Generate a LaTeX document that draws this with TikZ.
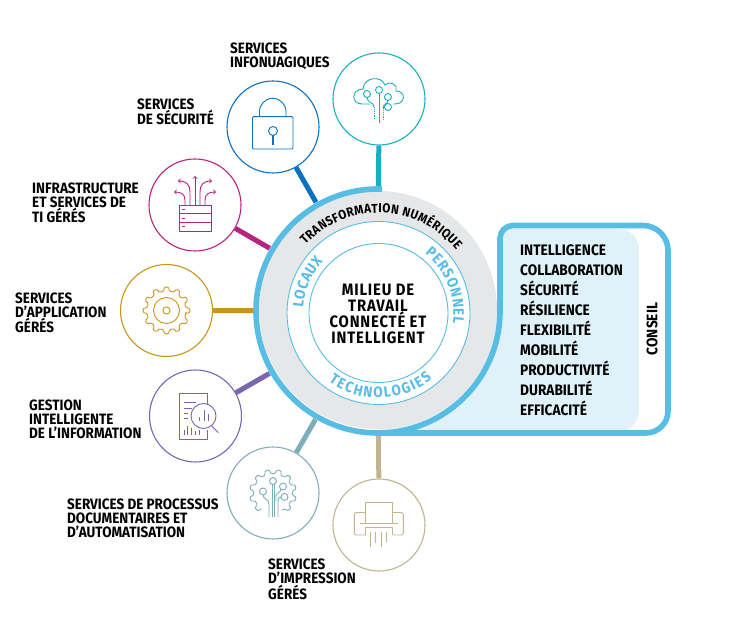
\documentclass[tikz,border=0pt]{standalone}
\usepackage{fontspec}
\setmainfont[FakeStretch=0.9]{Fira Sans}
\usetikzlibrary{decorations.text}
\definecolor{ringblue}{HTML}{58BDE3}
\definecolor{boxfill}{HTML}{E0F2F9}
\definecolor{ringgrey}{HTML}{E6E7E8}
\definecolor{cloudcol}{HTML}{1AAEBF}
\definecolor{lockcol}{HTML}{0C71BE}
\definecolor{servercol}{HTML}{B5247F}
\definecolor{gearcol}{HTML}{C8961E}
\definecolor{doccol}{HTML}{7A66B0}
\definecolor{proccol}{HTML}{7FAEBB}
\definecolor{printcol}{HTML}{BDB68F}
\begin{document}
\begin{tikzpicture}[x=1pt, y=1pt]
	\tikzset{hub/.style={circle, inner sep=0, minimum size=250pt}}
	\tikzset{service/.style={circle, draw=#1, fill=white, line width=1.1pt, inner sep=0, minimum size=92pt}}
	\tikzset{link/.style={draw=#1, line width=5pt}}
	\tikzset{icon/.style={draw=#1, line width=0.9pt, line join=round}}
	\tikzset{caption/.style={anchor=west, align=left, inner sep=0, font=\fontsize{15}{14}\selectfont\bfseries}}
	\tikzset{listing/.style={anchor=west, align=left, inner sep=0, font=\fontsize{15.2}{20}\selectfont\bfseries}}
	\tikzset{curved/.style={decorate, decoration={text along path, text align={fit to path}, text={#1}}}}
	\useasboundingbox (0,0) rectangle (730,623);

	\fill[boxfill] (378,192) -- (500,312) -- (500,394) -- (619,394) arc (90:0:20) -- (639,212) arc (0:-90:20) -- cycle;
	\fill[ringgrey] (378,313) circle (119);

	\node[hub] (hub) at (378,312) {};
	\node[service=cloudcol] (cloud) at (379,524) {};
	\node[service=lockcol] (lock) at (273,496) {};
	\node[service=servercol] (server) at (195,418) {};
	\node[service=gearcol] (gear) at (166.5,312.5) {};
	\node[service=doccol] (doc) at (195.5,207) {};
	\node[service=proccol] (proc) at (273,130) {};
	\node[service=printcol] (print) at (379,98) {};

	\draw[link=cloudcol] (cloud) -- (hub);
	\draw[link=lockcol] (lock) -- (hub);
	\draw[link=servercol] (server) -- (hub);
	\draw[link=gearcol] (gear) -- (hub);
	\draw[link=doccol] (doc) -- (hub);
	\draw[link=proccol] (proc) -- (hub);
	\draw[link=printcol] (print) -- (hub);

	\draw[draw=ringblue, line width=5.6pt] (382,434) -- (378,434) arc (90:360:122) -- (500,384.5) arc (180:90:13) -- (643,397.5) arc (90:0:25) -- (668,212) arc (0:-90:22) -- (378,190);

	\draw[ringblue, fill=white, line width=0.9pt] (378.5,310) circle (91.5);
	\draw[ringblue, line width=0.9pt] (378.5,310) circle (69.5);

	\path[curved={|\fontsize{12.9}{13}\selectfont\bfseries\color{black}|TRANSFORMATION NUMÉRIQUE}] (378.5,310) ++(137:100) arc (137:39:100);
	\path[curved={|\fontsize{15}{15}\selectfont\bfseries\color{ringblue}|LOCAUX}] (378.5,310) ++(176:75.5) arc (176:137:75.5);
	\path[curved={|\fontsize{15}{15}\selectfont\bfseries\color{ringblue}|PERSONNEL}] (378.5,310) ++(52:75) arc (52:-8:75);
	\path[curved={|\fontsize{15}{15}\selectfont\bfseries\color{ringblue}|TECHNOLOGIES}] (378.5,310) ++(234:85) arc (234:309:85);

	\node[align=center, inner sep=0, font=\fontsize{16.5}{16}\selectfont\addfontfeature{LetterSpace=5}\bfseries] (milieu) at (378,309.5) {MILIEU DE\\TRAVAIL\\CONNECTÉ ET\\INTELLIGENT};
	\node[listing] (values) at (520,293) {INTELLIGENCE\\COLLABORATION\\SÉCURITÉ\\RÉSILIENCE\\FLEXIBILITÉ\\MOBILITÉ\\PRODUCTIVITÉ\\DURABILITÉ\\EFFICACITÉ};
	\node[rotate=90, inner sep=0, font=\fontsize{15.2}{16}\selectfont\bfseries] (conseil) at (652,294) {CONSEIL};

	\node[caption] (cloudtxt) at (230,567) {SERVICES\\INFONUAGIQUES};
	\node[caption] (locktxt) at (137,511) {SERVICES\\DE SÉCURITÉ};
	\node[caption] (servertxt) at (32,420) {INFRASTRUCTURE\\ET SERVICES DE\\TI GÉRÉS};
	\node[caption] (geartxt) at (15,310) {SERVICES\\D’APPLICATION\\GÉRÉS};
	\node[caption] (doctxt) at (29,203.5) {GESTION\\INTELLIGENTE\\DE L’INFORMATION};
	\node[caption] (proctxt) at (67,105) {SERVICES DE PROCESSUS\\DOCUMENTAIRES ET\\D’AUTOMATISATION};
	\node[caption] (printtxt) at (268,43.5) {SERVICES\\D’IMPRESSION\\GÉRÉS};

	\begin{scope}[shift={(cloud)}, icon=cloudcol]
		\draw (-9,-5) -- (-17,-5) .. controls (-28,-5) and (-28,10) .. (-16,10) .. controls (-15,22) and (2,24) .. (6,14) .. controls (12,19) and (19,14) .. (17,8) .. controls (27,8) and (27,-5) .. (16,-5) -- (14,-5);
		\draw (-12,5) circle (3.5);
		\draw (0,9) circle (3.5);
		\draw (9,2) circle (3.5);
		\draw (9,-8) circle (3.5);
		\draw (0,5.5) -- (0,-24);
		\draw (-12,1.5) .. controls (-12,-4) and (-5,-3) .. (-5,-8);
		\draw[densely dotted] (-5,-8) -- (-5,-21);
		\draw (9,-1.5) .. controls (9,-5) and (4,-5) .. (4,-9);
		\draw[densely dotted] (4,-9) -- (4,-21);
		\draw (5.5,-8) -- (4,-9);
	\end{scope}

	\begin{scope}[shift={(lock)}, icon=lockcol]
		\draw[rounded corners=1pt] (-20.5,-22) rectangle (20,10.3);
		\draw (-13.5,10.3) -- (-13.5,15.4) arc (180:0:13.25) -- (13,10.3);
		\draw (0,-4) circle (4.5);
		\draw[line width=2pt] (0,-8.5) -- (0,-18);
	\end{scope}

	\begin{scope}[shift={(server)}, icon=servercol]
		\draw (-16,-26) rectangle (16,0);
		\draw (-16,-8.7) -- (16,-8.7);
		\draw (-16,-17.3) -- (16,-17.3);
		\foreach \y in {-4.5,-13,-21.5} {
			\draw (-13,\y) -- (-10.5,\y);
		}
		\draw[->] (0,0) -- (0,29);
		\draw[->] (-5,0) -- (-5,13) .. controls (-5,20) and (-8,24) .. (-17,24);
		\draw[->] (5,0) -- (5,13) .. controls (5,20) and (8,24) .. (17,24);
		\draw[->] (-10,0) -- (-10,5) .. controls (-10,11) and (-14,13) .. (-21,13);
		\draw[->] (10,0) -- (10,5) .. controls (10,11) and (14,13) .. (21,13);
	\end{scope}

	\begin{scope}[shift={(gear)}, icon=gearcol]
		\draw[rounded corners=1pt] (-9:19.5) \foreach \a in {0,30,...,330} { -- (\a-9:19.5) -- (\a-5:23.5) -- (\a+5:23.5) -- (\a+9:19.5) } -- cycle;
		\draw (0,0) circle (13);
		\draw (0,0) circle (3.6);
	\end{scope}

	\begin{scope}[shift={(doc)}, icon=doccol]
		\draw (12,11) -- (12,22.7) -- (-16.5,22.7) -- (-16.5,-23.3) -- (12,-23.3) -- (12,-14);
		\draw (-12,14) -- (0,14);
		\draw (-12,8) -- (-4,8);
		\draw (-12,3) -- (-8,3);
		\draw (-12,-2) -- (-8,-2);
		\foreach \x/\h in {-11/5,-8/9,-4/7,0/4,4/5} {
			\draw (\x,-19) -- (\x,-19+\h);
		}
		\draw (8,0) circle (12.5);
		\draw (16,-9.7) -- (23,-16.7);
		\foreach \x/\h in {4/4,8.5/11,13/7} {
			\draw (\x,-5) -- (\x,-5+\h);
		}
	\end{scope}

	\begin{scope}[shift={(proc)}, icon=proccol]
		\draw[rounded corners=1pt] (-62:19.5) \foreach \a in {-45,-15,...,225} { -- (\a-9:19.5) -- (\a-5:23.5) -- (\a+5:23.5) -- (\a+9:19.5) };
		\draw (0,12) circle (3.5);
		\draw (-10,1.5) circle (3.5);
		\draw (10,6.5) circle (3.5);
		\draw (11.5,-4) circle (3.5);
		\draw (-1,8.5) -- (-1,-24);
		\draw (1,8.5) -- (1,-24);
		\draw (-10,-2) .. controls (-10,-6) and (-4,-6) .. (-4,-11) -- (-4,-24);
		\draw (8,-4) .. controls (5,-4) and (5,-6) .. (5,-9) -- (5,-24);
		\draw (8.5,4) .. controls (7,0) and (3,0) .. (3,-3) -- (3,-8);
	\end{scope}

	\begin{scope}[shift={(print)}, icon=printcol]
		\draw (-13.3,1.7) -- (-13.3,22.3) -- (13.7,22.3) -- (13.7,1.7);
		\draw[rounded corners=2pt] (-13.3,12.5) -- (-24.7,12.5) -- (-24.7,-10) -- (-13.3,-10);
		\draw[rounded corners=2pt] (13.7,12.5) -- (24.3,12.5) -- (24.3,-10) -- (13.7,-10);
		\draw (-19,1.7) -- (19,1.7);
		\draw (-13.3,-10) -- (-13.3,-2.7) -- (13.7,-2.7) -- (13.7,-10);
		\foreach \x/\l in {-8.3/-21.7,-3.3/-18,2/-21.7,7.7/-17} {
			\draw (\x,-7.3) -- (\x,\l);
		}
	\end{scope}
\end{tikzpicture}
\end{document}
